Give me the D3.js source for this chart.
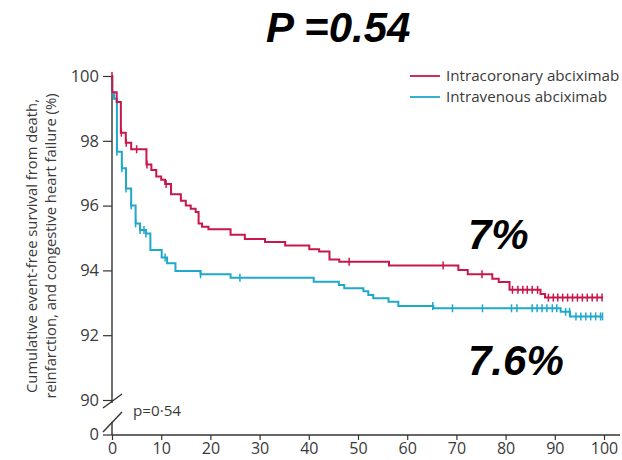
<!DOCTYPE html>
<html>
<head>
<meta charset="utf-8">
<script src="https://cdn.jsdelivr.net/npm/d3@7"></script>
<style>
  body { margin: 0; background: #fff; }
  svg text { font-family: "Open Sans", sans-serif; fill: #3a3a3a; }
  .big { font-family: "Liberation Sans", Arial, sans-serif !important; font-weight: bold; font-style: italic; fill: #000 !important; }
</style>
</head>
<body>
<div id="chart"></div>
<script>
// step points: [month, survival %] (value holds from that month on)
const intracoronarySteps = [
  [0, 100], [0.05, 99.5], [0.95, 99.2], [1.8, 98.25], [2.8, 97.94], [3.9, 97.74],
  [7.0, 97.27], [8.0, 97.1], [9.0, 96.9], [10.0, 96.8], [10.8, 96.67], [12.0, 96.35],
  [14.0, 96.15], [15.0, 96.0], [16.0, 95.9], [17.0, 95.8], [17.6, 95.45], [18.3, 95.35],
  [19.6, 95.27], [24.1, 95.1], [27.0, 94.97], [31.1, 94.88], [35.2, 94.77], [40.1, 94.65],
  [42.1, 94.58], [44.2, 94.34], [46.2, 94.27], [56.3, 94.15], [70.4, 94.01], [72.3, 93.88],
  [77.3, 93.74], [78.6, 93.64], [80.8, 93.4], [87.1, 93.27], [88.0, 93.16]
];
const intracoronaryCensored = [
  0, 1.9, 2.9, 5.0, 7.1, 11.0, 48.2, 67.3, 75.2, 81.4, 82.5, 83.5, 84.4, 85.4, 86.5,
  88.7, 89.7, 90.6, 91.6, 92.6, 93.6, 94.6, 95.6, 96.6, 97.6, 98.6, 99.6
];
const intravenousSteps = [
  [0, 100], [0.05, 99.45], [0.4, 99.3], [1.0, 97.66], [2.0, 97.15], [2.85, 96.53],
  [3.9, 96.0], [4.8, 95.45], [5.7, 95.25], [6.9, 95.14], [7.8, 94.63], [10.1, 94.4],
  [11.2, 94.22], [12.9, 93.98], [18.0, 93.88], [24.1, 93.77], [41.0, 93.65], [46.1, 93.55],
  [47.2, 93.45], [51.1, 93.36], [52.1, 93.24], [53.1, 93.14], [56.2, 93.03], [58.2, 92.9],
  [65.3, 92.83], [91.2, 92.72], [93.1, 92.58]
];
const intravenousCensored = [
  1.0, 2.0, 2.85, 3.9, 4.8, 5.7, 6.5, 6.9, 10.8, 18.0, 26.0, 65.2, 69.2, 75.3, 81.2,
  82.3, 85.4, 86.4, 87.4, 88.4, 89.5, 90.4, 92.2, 93.0, 94.3, 95.3, 96.3, 97.3, 98.3,
  99.3, 99.7
];
const lastMonth = 99.8;
const xTicks = [0, 10, 20, 30, 40, 50, 60, 70, 80, 90, 100];
const yTicks = [90, 92, 94, 96, 98, 100];
const seriesNames = ["Intracoronary abciximab", "Intravenous abciximab"];
const seriesColors = ["#c8174a", "#1ea8cc"];

const width = 622, height = 460;
const svg = d3.select("#chart").append("svg")
  .attr("width", width).attr("height", height);

const x = d3.scaleLinear().domain([0, 100]).range([112, 604]);
const y = d3.scaleLinear().domain([90, 100]).range([400, 76]);
const zeroY = 435;

// x axis
const xAxis = svg.append("g")
  .attr("transform", `translate(0,${zeroY})`)
  .call(d3.axisBottom(x).tickValues(xTicks).tickSize(5).tickPadding(3).tickFormat(d3.format("d")));
xAxis.select(".domain").remove();
xAxis.selectAll("line").attr("stroke", "#333").attr("stroke-width", 1.2);
xAxis.selectAll("text").style("font-size", "16px").attr("fill", "#3a3a3a");
svg.append("line").attr("x1", x(0)).attr("x2", 620).attr("y1", zeroY).attr("y2", zeroY)
  .attr("stroke", "#333").attr("stroke-width", 1.4);

// y axis (upper part)
const yAxis = svg.append("g")
  .attr("transform", `translate(${x(0)},0)`)
  .call(d3.axisLeft(y).tickValues(yTicks).tickSize(9).tickPadding(4));
yAxis.select(".domain").remove();
yAxis.selectAll("line").attr("stroke", "#333").attr("stroke-width", 1.2);
yAxis.selectAll("text").style("font-size", "16.5px").attr("fill", "#3a3a3a");

svg.append("line").attr("x1", x(0)).attr("x2", x(0)).attr("y1", y(100)).attr("y2", 403)
  .attr("stroke", "#333").attr("stroke-width", 1.4);
svg.append("line").attr("x1", x(0)).attr("x2", x(0)).attr("y1", 422).attr("y2", zeroY)
  .attr("stroke", "#333").attr("stroke-width", 1.4);
// zero tick
svg.append("line").attr("x1", x(0) - 9).attr("x2", x(0)).attr("y1", zeroY).attr("y2", zeroY)
  .attr("stroke", "#333").attr("stroke-width", 1.2);
svg.append("text").attr("x", x(0) - 13).attr("y", zeroY).attr("dy", "0.32em")
  .attr("text-anchor", "end").style("font-size", "16.5px").text("0");
// break marks
[[103, 408, 122, 394], [103, 432, 122, 412]].forEach(s => {
  svg.append("line").attr("x1", s[0]).attr("y1", s[1]).attr("x2", s[2]).attr("y2", s[3])
    .attr("stroke", "#333").attr("stroke-width", 1.4);
});

// y axis label
const yl = svg.append("text")
  .attr("transform", "translate(37,246) rotate(-90)")
  .attr("text-anchor", "middle").style("font-size", "14.8px");
yl.append("tspan").attr("x", 0).attr("y", 0).text("Cumulative event-free survival from death,");
yl.append("tspan").attr("x", 0).attr("y", 19).text("reinfarction, and congestive heart failure (%)");

// curves
const line = d3.line().x(d => x(d[0])).y(d => y(d[1])).curve(d3.curveStepAfter);
function valueAt(steps, t) {
  let v = steps[0][1];
  steps.forEach(s => { if (s[0] <= t + 1e-9) v = s[1]; });
  return v;
}
function drawSeries(steps, censored, color) {
  const pts = steps.concat([[lastMonth, steps[steps.length - 1][1]]]);
  svg.append("path").datum(pts).attr("d", line)
    .attr("fill", "none").attr("stroke", color).attr("stroke-width", 2);
  svg.append("g").selectAll("line").data(censored).enter().append("line")
    .attr("x1", d => x(d)).attr("x2", d => x(d))
    .attr("y1", d => y(valueAt(steps, d)) - 4).attr("y2", d => y(valueAt(steps, d)) + 4)
    .attr("stroke", color).attr("stroke-width", 1.5);
}
drawSeries(intravenousSteps, intravenousCensored, seriesColors[1]);
drawSeries(intracoronarySteps, intracoronaryCensored, seriesColors[0]);

// legend
seriesNames.forEach((name, i) => {
  const ly = 76 + i * 21;
  svg.append("line").attr("x1", 410).attr("x2", 440).attr("y1", ly).attr("y2", ly)
    .attr("stroke", seriesColors[i]).attr("stroke-width", 1.8);
  svg.append("text").attr("x", 446).attr("y", ly).attr("dy", "0.35em")
    .style("font-size", "15.2px").text(name);
});

svg.append("text").attr("x", 133).attr("y", 416).style("font-size", "15.2px").text("p=0·54");

// annotations
svg.append("text").attr("class", "big").attr("x", 266).attr("y", 41.5)
  .style("font-size", "42px").text("P =0.54");
svg.append("text").attr("class", "big").attr("x", 468).attr("y", 249)
  .style("font-size", "42px").text("7%");
svg.append("text").attr("class", "big").attr("x", 468).attr("y", 375)
  .style("font-size", "42px").text("7.6%");
</script>
</body>
</html>
